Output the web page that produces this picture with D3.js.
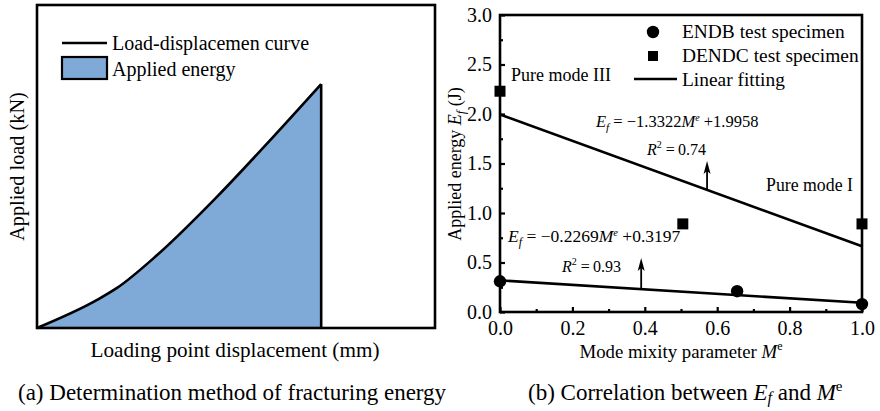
<!DOCTYPE html>
<html>
<head>
<meta charset="utf-8">
<script src="https://cdn.jsdelivr.net/npm/d3@7"></script>
<style>
  html, body { margin: 0; padding: 0; background: #fff; }
  svg { display: block; font-family: "Liberation Serif", "Times New Roman", serif; }
</style>
</head>
<body>
<svg id="fig" width="880" height="411"></svg>
<script>
// ---- Panel (a): schematic load-displacement curve (relative units) ----
const curveDisp = [0, 15.1, 20.1, 30.2, 45.2, 59.3, 71.4];
const curveLoad = [0, 8.7, 12.4, 22.6, 40.6, 59.1, 75.5];

// ---- Panel (b): applied energy vs. mode mixity ----
const endbMe = [0, 0.655, 1.0];
const endbEf = [0.31, 0.21, 0.08];
const dendcMe = [0, 0.505, 1.0];
const dendcEf = [2.23, 0.89, 0.89];
// linear fits: Ef = slope * Me + intercept
const fitSlope = [-1.3322, -0.2269];
const fitIntercept = [1.9958, 0.3197];
const fitR2 = ["0.74", "0.93"];
const xTicks = [0, 0.2, 0.4, 0.6, 0.8, 1.0];
const yTicks = [0, 0.5, 1.0, 1.5, 2.0, 2.5, 3.0];

const svg = d3.select("#fig");
const black = "#000";
const fillBlue = "#7fa9d6";

// ================= Panel (a) =================
const A = { left: 37, right: 435, top: 5, bottom: 328 };
const ax = d3.scaleLinear().domain([0, 100]).range([A.left, A.right]);
const ay = d3.scaleLinear().domain([0, 100]).range([A.bottom, A.top]);
const pts = curveDisp.map((d, i) => [d, curveLoad[i]]);
const gA = svg.append("g");

const area = d3.area()
  .x(d => ax(d[0])).y0(ay(0)).y1(d => ay(d[1]))
  .curve(d3.curveMonotoneX);
gA.append("path").datum(pts).attr("d", area).attr("fill", fillBlue);

const line = d3.line().x(d => ax(d[0])).y(d => ay(d[1])).curve(d3.curveMonotoneX);
gA.append("path").datum(pts).attr("d", line)
  .attr("fill", "none").attr("stroke", black).attr("stroke-width", 2.6);
const last = pts[pts.length - 1];
gA.append("line")
  .attr("x1", ax(last[0])).attr("x2", ax(last[0]))
  .attr("y1", ay(last[1])).attr("y2", ay(0))
  .attr("stroke", black).attr("stroke-width", 2.6);

gA.append("rect")
  .attr("x", A.left).attr("y", A.top)
  .attr("width", A.right - A.left).attr("height", A.bottom - A.top)
  .attr("fill", "none").attr("stroke", black).attr("stroke-width", 2.6);

// legend (a)
gA.append("line").attr("x1", 62).attr("x2", 107).attr("y1", 43).attr("y2", 43)
  .attr("stroke", black).attr("stroke-width", 2.6);
gA.append("rect").attr("x", 62).attr("y", 57).attr("width", 45).attr("height", 22)
  .attr("fill", fillBlue).attr("stroke", black).attr("stroke-width", 2.2);
gA.append("text").attr("x", 112).attr("y", 50).attr("font-size", 20)
  .text("Load-displacemen curve");
gA.append("text").attr("x", 112).attr("y", 76).attr("font-size", 20)
  .text("Applied energy");

gA.append("text")
  .attr("transform", `translate(24,${(A.top + A.bottom) / 2}) rotate(-90)`)
  .attr("text-anchor", "middle").attr("font-size", 20.3)
  .text("Applied load (kN)");
gA.append("text").attr("x", (A.left + A.right) / 2 - 1).attr("y", 357)
  .attr("text-anchor", "middle").attr("font-size", 21.2)
  .text("Loading point displacement (mm)");
gA.append("text").attr("x", 18).attr("y", 400).attr("font-size", 23)
  .text("(a) Determination method of fracturing energy");

// ================= Panel (b) =================
const B = { left: 500, right: 862, top: 15, bottom: 312 };
const x = d3.scaleLinear().domain([0, 1]).range([B.left, B.right]);
const y = d3.scaleLinear().domain([0, 3]).range([B.bottom, B.top]);
const gB = svg.append("g");

// inward ticks: major + minor
const xAxis = d3.axisBottom(x).tickValues(xTicks).tickSize(-5).tickPadding(9)
  .tickFormat(d3.format(".1f"));
const xMinor = d3.axisBottom(x).tickValues(d3.range(0.1, 1, 0.2)).tickSize(-3).tickFormat("");
const yAxis = d3.axisLeft(y).tickValues(yTicks).tickSize(-5).tickPadding(8)
  .tickFormat(d3.format(".1f"));
const yMinor = d3.axisLeft(y).tickValues(d3.range(0.25, 3, 0.5)).tickSize(-3).tickFormat("");

function styleAxis(g) {
  g.select(".domain").remove();
  g.selectAll(".tick line").attr("stroke", black).attr("stroke-width", 2.2);
  g.selectAll("text").attr("font-family", "Liberation Serif, serif")
    .attr("font-size", 20).attr("fill", black);
}
gB.append("g").attr("transform", `translate(0,${B.bottom})`).call(xAxis).call(styleAxis);
gB.append("g").attr("transform", `translate(0,${B.bottom})`).call(xMinor).call(styleAxis);
gB.append("g").attr("transform", `translate(${B.left},0)`).call(yAxis).call(styleAxis);
gB.append("g").attr("transform", `translate(${B.left},0)`).call(yMinor).call(styleAxis);

// fitted lines
fitSlope.forEach((m, i) => {
  gB.append("line")
    .attr("x1", x(0)).attr("y1", y(fitIntercept[i]))
    .attr("x2", x(1)).attr("y2", y(m + fitIntercept[i]))
    .attr("stroke", black).attr("stroke-width", 2.6);
});

gB.append("rect")
  .attr("x", B.left).attr("y", B.top)
  .attr("width", B.right - B.left).attr("height", B.bottom - B.top)
  .attr("fill", "none").attr("stroke", black).attr("stroke-width", 2.6);

// points
gB.selectAll("circle.endb").data(endbMe).join("circle")
  .attr("class", "endb")
  .attr("cx", d => x(d)).attr("cy", (d, i) => y(endbEf[i])).attr("r", 6.2).attr("fill", black);
const sq = 11;
gB.selectAll("rect.dendc").data(dendcMe).join("rect")
  .attr("class", "dendc")
  .attr("x", d => x(d) - sq / 2).attr("y", (d, i) => y(dendcEf[i]) - sq / 2)
  .attr("width", sq).attr("height", sq).attr("fill", black);

// legend (b)
gB.append("circle").attr("cx", 653).attr("cy", 32).attr("r", 6.2).attr("fill", black);
gB.append("rect").attr("x", 648).attr("y", 51).attr("width", 10).attr("height", 10).attr("fill", black);
gB.append("line").attr("x1", 634).attr("x2", 677).attr("y1", 79).attr("y2", 79)
  .attr("stroke", black).attr("stroke-width", 2.6);
[["ENDB test specimen", 38], ["DENDC test specimen", 62], ["Linear fitting", 86]].forEach(([t, yy]) => {
  gB.append("text").attr("x", 682).attr("y", yy).attr("font-size", 19.4).text(t);
});

gB.append("text").attr("x", 511).attr("y", 81).attr("font-size", 18).text("Pure mode III");
gB.append("text").attr("x", 766).attr("y", 191).attr("font-size", 17.8).text("Pure mode I");

// equations
function equation(x0, y0, slope, icpt, fs) {
  const t = gB.append("text").attr("x", x0).attr("y", y0).attr("font-size", fs);
  t.append("tspan").attr("font-style", "italic").text("E");
  t.append("tspan").attr("font-style", "italic").attr("font-size", fs * 0.68).attr("dy", 4).text("f");
  t.append("tspan").attr("dy", -4).text(" = \u2212" + Math.abs(slope).toFixed(4));
  t.append("tspan").attr("font-style", "italic").text("M");
  t.append("tspan").attr("font-style", "italic").attr("font-size", fs * 0.6).attr("dy", -6).text("e");
  t.append("tspan").attr("dy", 6).text(" +" + icpt.toFixed(4));
}
function rsq(x0, y0, val) {
  const t = gB.append("text").attr("x", x0).attr("y", y0).attr("font-size", 16);
  t.append("tspan").attr("font-style", "italic").text("R");
  t.append("tspan").attr("font-size", 10).attr("dy", -7).text("2");
  t.append("tspan").attr("dy", 7).text(" =\u2009" + val);
}
equation(596, 127, fitSlope[0], fitIntercept[0], 16.5);
rsq(647, 155, fitR2[0]);
equation(508, 242, fitSlope[1], fitIntercept[1], 17.5);
rsq(562, 272, fitR2[1]);

// arrows pointing from the fitted lines to their labels
function arrow(me, fitIdx, topY) {
  const xx = x(me);
  const y0 = y(fitSlope[fitIdx] * me + fitIntercept[fitIdx]);
  gB.append("line").attr("x1", xx).attr("x2", xx).attr("y1", y0).attr("y2", topY + 6)
    .attr("stroke", black).attr("stroke-width", 1.8);
  gB.append("path")
    .attr("d", `M${xx},${topY} L${xx - 3.5},${topY + 13} L${xx},${topY + 10} L${xx + 3.5},${topY + 13} Z`)
    .attr("fill", black);
}
arrow(0.572, 0, 161);
arrow(0.39, 1, 258);

// axis titles and caption (b)
const yt = gB.append("text")
  .attr("transform", `translate(461,164) rotate(-90)`)
  .attr("text-anchor", "middle").attr("font-size", 18);
yt.append("tspan").text("Applied energy ");
yt.append("tspan").attr("font-style", "italic").text("E");
yt.append("tspan").attr("font-style", "italic").attr("font-size", 12.5).attr("dy", 4).text("f");
yt.append("tspan").attr("dy", -4).text(" (J)");

const xt = gB.append("text").attr("x", 681).attr("y", 358)
  .attr("text-anchor", "middle").attr("font-size", 18.8);
xt.append("tspan").text("Mode mixity parameter ");
xt.append("tspan").attr("font-style", "italic").text("M");
xt.append("tspan").attr("font-size", 12).attr("dy", -8).text("e");

const cap = gB.append("text").attr("x", 528).attr("y", 400).attr("font-size", 23);
cap.append("tspan").text("(b) Correlation between ");
cap.append("tspan").attr("font-style", "italic").text("E");
cap.append("tspan").attr("font-style", "italic").attr("font-size", 16).attr("dy", 3).text("f");
cap.append("tspan").attr("dy", -3).text(" and ");
cap.append("tspan").attr("font-style", "italic").text("M");
cap.append("tspan").attr("font-size", 15).attr("dy", -9).text("e");
</script>
</body>
</html>
